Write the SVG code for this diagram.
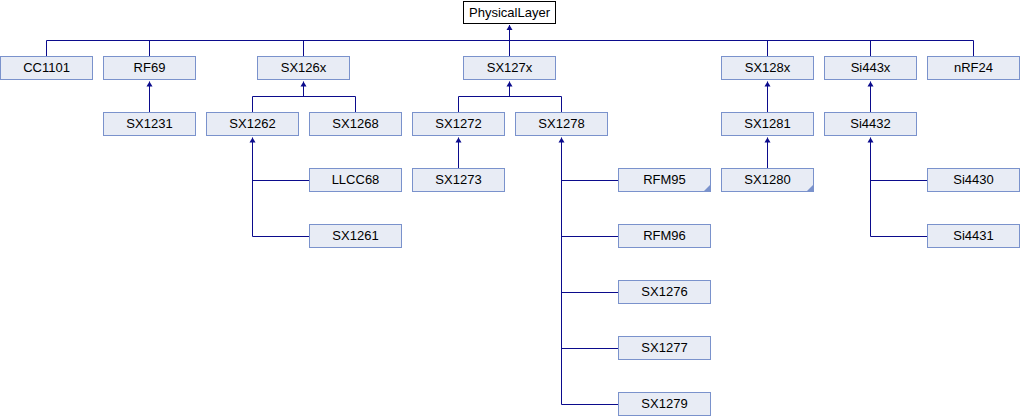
<svg xmlns="http://www.w3.org/2000/svg" width="1020" height="416" viewBox="0 0 1020 416">
<defs>
<style>
.n rect{fill:#E8ECF5;stroke:#7A92CC;stroke-width:1}
.n text,.r text{font-family:"Liberation Sans",Arial,sans-serif;font-size:13px;fill:#000;text-anchor:middle}
.r rect{fill:#FFFFFF;stroke:#000000;stroke-width:1}
.c path{fill:none;stroke:#0B0B8C;stroke-width:1}
.c path.a{marker-end:url(#arr)}
.t{fill:#7A92CC}
</style>
<marker id="arr" markerUnits="userSpaceOnUse" viewBox="-6 -4 7 8" refX="0" refY="0" markerWidth="7" markerHeight="8" orient="auto">
<path d="M0,0 L-5,-3 L-5,3 Z" fill="#0B0B8C"/>
</marker>
</defs>
<rect width="1020" height="416" fill="#FFFFFF"/>
<g class="c">
<path d="M46.5 56.5 V40.5 H973.5 V56.5"/>
<path d="M149.5 40.5 V56.5 M303.5 40.5 V56.5 M767.5 40.5 V56.5 M870.5 40.5 V56.5"/>
<path class="a" d="M509.5 56.5 V25"/>
<path class="a" d="M149.5 112.5 V81.5"/>
<path d="M252.5 112.5 V96.5 H355.5 V112.5"/>
<path class="a" d="M303.5 96.5 V81.5"/>
<path d="M458.5 112.5 V96.5 H561.5 V112.5"/>
<path class="a" d="M509.5 96.5 V81.5"/>
<path class="a" d="M767.5 112.5 V81.5"/>
<path class="a" d="M870.5 112.5 V81.5"/>
<path d="M309.5 180.5 H252.5"/>
<path class="a" d="M309.5 236.5 H252.5 V137.5"/>
<path class="a" d="M458.5 168.5 V137.5"/>
<path d="M618.5 180.5 H561.5 M618.5 236.5 H561.5 M618.5 292.5 H561.5 M618.5 348.5 H561.5"/>
<path class="a" d="M618.5 404.5 H561.5 V137.5"/>
<path class="a" d="M767.5 168.5 V137.5"/>
<path d="M927.5 180.5 H870.5"/>
<path class="a" d="M927.5 236.5 H870.5 V137.5"/>
</g>
<g id="PhysicalLayer" class="r"><rect x="463.5" y="1.5" width="92" height="22"/><text x="509.5" y="17">PhysicalLayer</text></g>
<g id="CC1101" class="n"><rect x="0.5" y="56.5" width="92" height="23"/><text x="46.5" y="71.5">CC1101</text></g>
<g id="RF69" class="n"><rect x="103.5" y="56.5" width="92" height="23"/><text x="149.5" y="71.5">RF69</text></g>
<g id="SX126x" class="n"><rect x="257.5" y="56.5" width="92" height="23"/><text x="303.5" y="71.5">SX126x</text></g>
<g id="SX127x" class="n"><rect x="463.5" y="56.5" width="92" height="23"/><text x="509.5" y="71.5">SX127x</text></g>
<g id="SX128x" class="n"><rect x="721.5" y="56.5" width="92" height="23"/><text x="767.5" y="71.5">SX128x</text></g>
<g id="Si443x" class="n"><rect x="824.5" y="56.5" width="92" height="23"/><text x="870.5" y="71.5">Si443x</text></g>
<g id="nRF24" class="n"><rect x="927.5" y="56.5" width="92" height="23"/><text x="973.5" y="71.5">nRF24</text></g>
<g id="SX1231" class="n"><rect x="103.5" y="112.5" width="92" height="23"/><text x="149.5" y="127.5">SX1231</text></g>
<g id="SX1262" class="n"><rect x="206.5" y="112.5" width="92" height="23"/><text x="252.5" y="127.5">SX1262</text></g>
<g id="SX1268" class="n"><rect x="309.5" y="112.5" width="92" height="23"/><text x="355.5" y="127.5">SX1268</text></g>
<g id="SX1272" class="n"><rect x="412.5" y="112.5" width="92" height="23"/><text x="458.5" y="127.5">SX1272</text></g>
<g id="SX1278" class="n"><rect x="515.5" y="112.5" width="92" height="23"/><text x="561.5" y="127.5">SX1278</text></g>
<g id="SX1281" class="n"><rect x="721.5" y="112.5" width="92" height="23"/><text x="767.5" y="127.5">SX1281</text></g>
<g id="Si4432" class="n"><rect x="824.5" y="112.5" width="92" height="23"/><text x="870.5" y="127.5">Si4432</text></g>
<g id="LLCC68" class="n"><rect x="309.5" y="168.5" width="92" height="23"/><text x="355.5" y="183.5">LLCC68</text></g>
<g id="SX1273" class="n"><rect x="412.5" y="168.5" width="92" height="23"/><text x="458.5" y="183.5">SX1273</text></g>
<g id="RFM95" class="n"><rect x="618.5" y="168.5" width="92" height="23"/><text x="664.5" y="183.5">RFM95</text><path class="t" d="M710 185 V191 H704 Z"/></g>
<g id="SX1280" class="n"><rect x="721.5" y="168.5" width="92" height="23"/><text x="767.5" y="183.5">SX1280</text><path class="t" d="M813 185 V191 H807 Z"/></g>
<g id="Si4430" class="n"><rect x="927.5" y="168.5" width="92" height="23"/><text x="973.5" y="183.5">Si4430</text></g>
<g id="SX1261" class="n"><rect x="309.5" y="224.5" width="92" height="23"/><text x="355.5" y="239.5">SX1261</text></g>
<g id="RFM96" class="n"><rect x="618.5" y="224.5" width="92" height="23"/><text x="664.5" y="239.5">RFM96</text></g>
<g id="Si4431" class="n"><rect x="927.5" y="224.5" width="92" height="23"/><text x="973.5" y="239.5">Si4431</text></g>
<g id="SX1276" class="n"><rect x="618.5" y="280.5" width="92" height="23"/><text x="664.5" y="295.5">SX1276</text></g>
<g id="SX1277" class="n"><rect x="618.5" y="336.5" width="92" height="23"/><text x="664.5" y="351.5">SX1277</text></g>
<g id="SX1279" class="n"><rect x="618.5" y="392.5" width="92" height="23"/><text x="664.5" y="407.5">SX1279</text></g>
</svg>
